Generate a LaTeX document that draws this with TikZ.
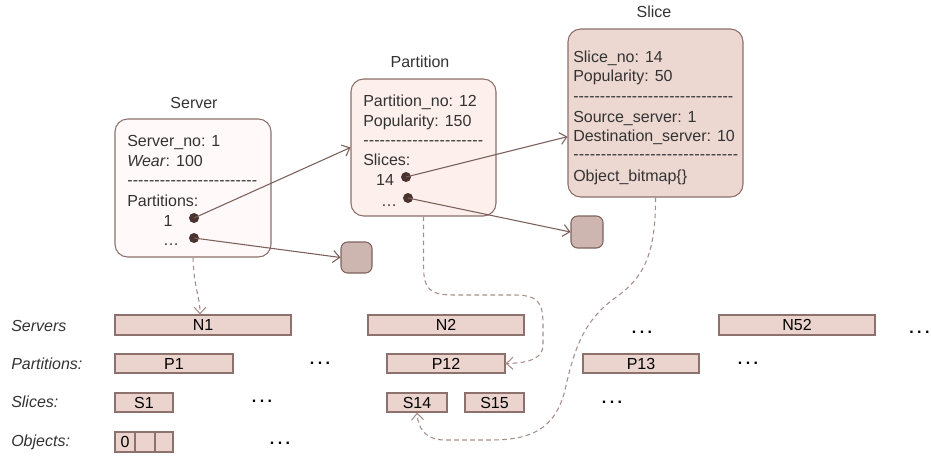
\documentclass[tikz,border=0pt]{standalone}
\usepackage{fontspec}
\setmainfont{Liberation Sans}
\usetikzlibrary{arrows.meta,calc,fit}

\definecolor{boxline}{HTML}{8B6F6A}
\definecolor{serverfill}{HTML}{FFFAF9}
\definecolor{partfill}{HTML}{FDEFEB}
\definecolor{slicefill}{HTML}{EDD7D1}
\definecolor{squarefill}{HTML}{CDB5B0}
\definecolor{squareline}{HTML}{7E625D}
\definecolor{barfill}{HTML}{EBD3CE}
\definecolor{barline}{HTML}{8C716C}
\definecolor{linkcol}{HTML}{7B5F5A}
\definecolor{dotcol}{HTML}{4A332F}
\definecolor{dashcol}{HTML}{A68E89}
\definecolor{txt}{HTML}{333333}

% a row of hyphens stretched to a given width
\newcommand\hyphenrow[1]{\hbox to #1{\xleaders\hbox{-}\hfill}}
% three bold dots
\newcommand\threedots{\textbf{.\kern2.6pt.\kern2.6pt.}}

\begin{document}
\begin{tikzpicture}[x=0.75pt,y=-0.75pt,
  font=\fontsize{12}{14}\selectfont, text=txt,
  record/.style={draw=boxline, line width=0.8pt, rounded corners=9.5pt, inner sep=0pt},
  handle/.style={draw=squareline, fill=squarefill, line width=0.8pt, rounded corners=5pt, inner sep=0pt},
  bar/.style={draw=barline, fill=barfill, line width=0.8pt, inner sep=0pt,
              minimum height=15pt, text=black},
  ln/.style={anchor=base west, inner sep=0pt},
  lc/.style={anchor=base, inner sep=0pt},
  ttl/.style={anchor=base, inner sep=0pt},
  rowlabel/.style={anchor=base west, inner sep=0pt, font=\fontsize{12}{14}\selectfont\itshape},
  more/.style={inner sep=0pt, text=black},
  pin/.style={circle, fill=dotcol, minimum size=7.5pt, inner sep=0pt},
  link/.style={draw=linkcol, line width=0.8pt, -{Straight Barb[length=5pt,width=9pt]}},
  ref/.style={draw=dashcol, line width=0.8pt, dash pattern=on 3.5pt off 2.5pt,
              -{Straight Barb[length=5pt,width=9pt]}}]

\useasboundingbox (0,0) rectangle (931,455);

% ---- record boxes ----
\node[record, fill=serverfill, fit={(115,119) (271,257)}] (server) {};
\node[record, fill=partfill, fit={(351,79) (496,216)}] (part) {};
\node[record, fill=slicefill, fit={(568,29) (743,197)}] (slice) {};

\node[ttl] (serverttl) at (194,108) {Server};
\node[ttl] (partttl) at (420,67) {Partition};
\node[ttl] (slicettl) at (654,17) {Slice};

% server record
\node[ln] (s1) at (127,146) {Server\_no: 1};
\node[ln] (s2) at (127,166) {\textit{Wear}: 100};
\node[ln] (s3) at (127,185) {\hyphenrow{97.5pt}};
\node[ln] (s4) at (127,206) {Partitions:};
\node[lc] (s5) at (168,226) {1};
\node[lc] (s6) at (171,245) {\dots};
\node[pin] (sd1) at (194,218) {};
\node[pin] (sd2) at (194,238) {};

% partition record
\node[ln] (p1) at (363,106) {Partition\_no: 12};
\node[ln] (p2) at (363,126) {Popularity: 150};
\node[ln] (p3) at (363,145.5) {\hyphenrow{90pt}};
\node[ln] (p4) at (363,165) {Slices:};
\node[lc] (p5) at (385,185) {14};
\node[lc] (p6) at (389,206) {\dots};
\node[pin] (pd1) at (406,177) {};
\node[pin] (pd2) at (408,198) {};

% slice record
\node[ln] (c1) at (573,62) {Slice\_no: 14};
\node[ln] (c2) at (573,81) {Popularity: 50};
\node[ln] (c3) at (573,101.5) {\hyphenrow{120pt}};
\node[ln] (c4) at (573,122) {Source\_server: 1};
\node[ln] (c5) at (573,141) {Destination\_server: 10};
\node[ln] (c6) at (573,159.5) {\hyphenrow{123.75pt}};
\node[ln] (c7) at (573,181) {Object\_bitmap\{\}};

% unnamed targets
\node[handle, fit={(341,242) (372,273)}] (h1) {};
\node[handle, fit={(571,216) (603,248)}] (h2) {};

% pointers
\draw[link] (sd1.center) -- (part.west);
\draw[link] (sd2.center) -- (h1.west);
\draw[link] (pd1.center) -- ($(slice.north west)!0.64!(slice.south west)$);
\draw[link] (pd2.center) -- (h2.west);

% ---- storage rows ----
\node[rowlabel] (lserv) at (11,331) {Servers};
\node[rowlabel] (lpart) at (11,369) {Partitions:};
\node[rowlabel] (lslice) at (11,407) {Slices:};
\node[rowlabel] (lobj) at (11,446) {Objects:};

\node[bar, minimum width=132pt] (N1) at (203,325) {N1};
\node[bar, minimum width=117pt] (N2) at (446,325) {N2};
\node[bar, minimum width=117pt] (N52) at (797,325) {N52};

\node[bar, minimum width=88.5pt, minimum height=14.25pt] (P1) at (174,363.5) {P1};
\node[bar, minimum width=88.5pt, minimum height=14.25pt] (P12) at (446,363.5) {P12};
\node[bar, minimum width=87pt, minimum height=14.25pt] (P13) at (641,363.5) {P13};

\node[bar, minimum width=43.5pt, minimum height=14.25pt] (S1) at (144,402.5) {S1};
\node[bar, minimum width=45pt, minimum height=14.25pt] (S14) at (417,402.5) {S14};
\node[bar, minimum width=44.25pt, minimum height=14.25pt] (S15) at (494.5,402.5) {S15};

\node[bar, minimum width=15pt] (O0) at (125,442) {0};
\node[bar, minimum width=15pt] (O1) at (145,442) {};
\node[bar, minimum width=13.5pt] (O2) at (164,442) {};

\node[more] (m1) at (642,332) {\threedots};
\node[more, anchor=west] (m2) at (909,332) {\threedots};
\node[more] (m3) at (320,363) {\threedots};
\node[more] (m4) at (748,363) {\threedots};
\node[more] (m5) at (262,401) {\threedots};
\node[more] (m6) at (612,402) {\threedots};
\node[more] (m7) at (280,443) {\threedots};

% ---- references into storage ----
\draw[ref] (server.south) .. controls (194,290) and (200,295) .. ($(N1.north)+(-3,0)$);
\draw[ref] (part.south) -- (423.5,265) .. controls (423.5,290) and (430,295) .. (455,295)
  -- (515,295) .. controls (540,295) and (543,305) .. (543,325) -- (543,345)
  .. controls (543,358) and (530,363) .. (P12.east);
\draw[ref] (slice.south) .. controls (656,260) and (640,280) .. (615,298)
  .. controls (585,320) and (575,345) .. (565,390)
  .. controls (555,430) and (530,440) .. (490,440) -- (445,440)
  .. controls (425,440) and (418,428) .. (S14.south);

\end{tikzpicture}
\end{document}
